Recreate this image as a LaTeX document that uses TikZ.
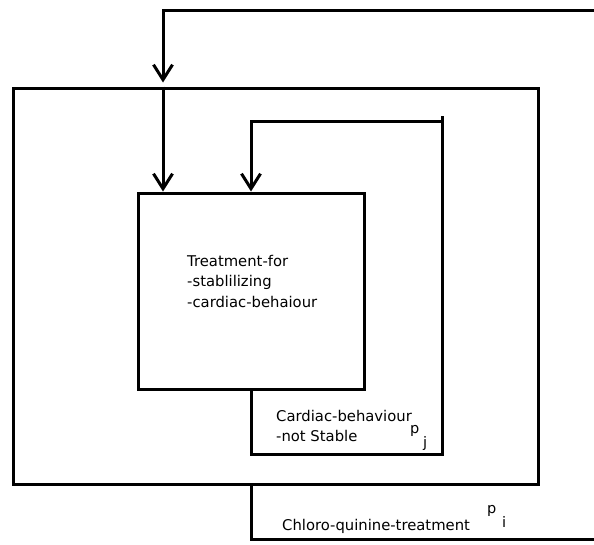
\documentclass[tikz,border=0pt]{standalone}
\usepackage{fontspec}
\setmainfont{DejaVu Sans}
\usetikzlibrary{arrows.meta}
\begin{document}
\begin{tikzpicture}[x=1pt,y=-1pt,
  wire/.style={line width=3pt, line join=miter},
  feed/.style={wire, -{Straight Barb[length=15pt,width=19pt,line width=3pt]}},
  boxed/.style={draw, line width=3pt, rectangle, inner sep=0pt},
  lbl/.style={font=\fontsize{14.8}{20.5}\selectfont, align=left, inner sep=0pt},
  idx/.style={font=\fontsize{14.5}{16}\selectfont, inner sep=0pt, anchor=base west}]
\useasboundingbox (0,0) rectangle (594,544);

% outer block: chloro-quinine treatment
\node[boxed, minimum width=525pt, minimum height=396pt] (chloro) at (275.5,286) {};
% inner block: stabilizing treatment
\node[boxed, minimum width=226pt, minimum height=196pt] (treat) at (251,291) {};

% loop corners
\coordinate (cj1) at (251,454);
\coordinate (cj2) at (442,454);
\coordinate (cj3) at (442,116);
\coordinate (cj4) at (442,121);
\coordinate (cj5) at (251,121);
\coordinate (ci1) at (251,539);
\coordinate (ci2) at (600,539);
\coordinate (ci3) at (600,10);
\coordinate (ci4) at (163,10);

% inner feedback loop (cardiac behaviour)
\draw[wire] (treat.south) -- (cj1) -- (cj2) -- (cj3);
\draw[feed] (cj4) -- (cj5) -- (treat.north);

% outer feedback loop (chloro-quinine treatment)
\draw[wire] (chloro.south -| treat.south) -- (ci1) -- (ci2) -- (ci3);
\draw[feed] (ci3) -- (ci4) -- ([yshift=4pt]chloro.north -| ci4);
\draw[feed] (chloro.north -| ci4) -- (treat.north -| ci4);

% labels
\node[lbl, anchor=north west] (treatlbl) at (187,254.8)
  {Treatment-for\\-stablilizing\\-cardiac-behaiour};
\node[lbl, anchor=north west] (cardlbl) at (276,409.8)
  {Cardiac-behaviour\\-not Stable};
\node[idx] (pj) at (410,433) {p};
\node[idx] (jj) at (423,447) {j};
\node[lbl, anchor=base west] (chlorolbl) at (282,530) {Chloro-quinine-treatment};
\node[idx] (pi) at (487,513) {p};
\node[idx] (ii) at (502,527) {i};
\end{tikzpicture}
\end{document}
